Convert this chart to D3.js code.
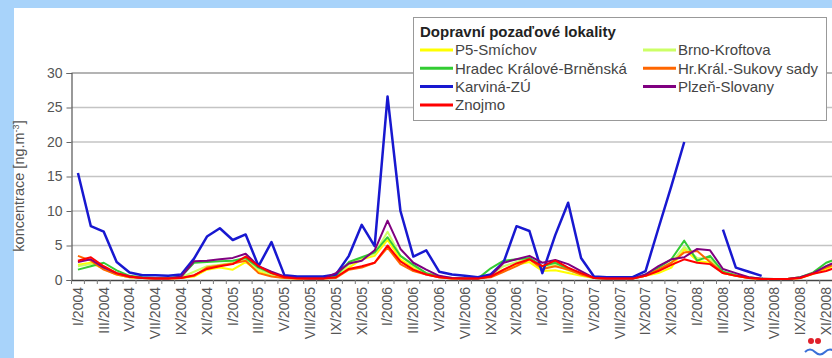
<!DOCTYPE html>
<html><head><meta charset="utf-8">
<script src="https://cdn.jsdelivr.net/npm/d3@7/dist/d3.min.js"></script>
<style>body{margin:0;background:#a8d3fa;overflow:hidden}svg{display:block}</style>
</head><body><svg id="c" width="832" height="358"></svg>
<script>
const months = ["I/2004","II/2004","III/2004","IV/2004","V/2004","VI/2004","VII/2004","VIII/2004","IX/2004","X/2004","XI/2004","XII/2004",
"I/2005","II/2005","III/2005","IV/2005","V/2005","VI/2005","VII/2005","VIII/2005","IX/2005","X/2005","XI/2005","XII/2005",
"I/2006","II/2006","III/2006","IV/2006","V/2006","VI/2006","VII/2006","VIII/2006","IX/2006","X/2006","XI/2006","XII/2006",
"I/2007","II/2007","III/2007","IV/2007","V/2007","VI/2007","VII/2007","VIII/2007","IX/2007","X/2007","XI/2007","XII/2007",
"I/2008","II/2008","III/2008","IV/2008","V/2008","VI/2008","VII/2008","VIII/2008","IX/2008","X/2008","XI/2008","XII/2008"];
const yTicks = [0,5,10,15,20,25,30];
const legendTitle = "Dopravní pozaďové lokality";
const yTitle = "koncentrace [ng.m";

const p5Smichov = [2.2,2.5,1.6,0.8,0.4,0.3,0.2,0.2,0.3,0.5,1.5,1.8, 1.5,2.6,1.2,0.6,0.3,0.2,0.2,0.2,0.4,1.8,3.0,3.5, 5.8,3.0,1.8,0.9,0.4,0.2,0.2,0.2,0.6,1.5,2.2,2.6, 1.3,1.4,1.0,0.6,0.3,0.2,0.2,0.2,0.6,1.0,1.8,4.5, 2.8,2.5,1.0,0.6,0.3,0.15,0.15,0.15,0.3,0.9,1.6,2.4];
const brnoKroftova = [2.0,2.3,1.8,1.0,0.5,0.3,0.2,0.2,0.4,1.2,2.0,2.2, 2.5,3.0,1.5,0.8,0.4,0.2,0.2,0.2,0.5,2.2,3.2,3.8, 7.0,3.5,2.0,1.0,0.5,0.2,0.2,0.2,0.8,2.0,2.6,3.2, 1.6,2.2,1.4,0.8,0.3,0.2,0.2,0.2,0.7,1.5,2.5,4.8, 3.2,3.0,1.2,0.7,0.3,0.15,0.15,0.15,0.4,1.0,2.0,2.8];
const hradecBrnenska = [1.5,2.0,2.5,1.4,0.6,0.4,0.3,0.3,0.5,2.5,2.6,2.7, 2.8,3.2,1.8,1.0,0.5,0.3,0.2,0.2,0.6,2.6,3.3,4.0, 6.2,3.5,2.2,1.0,0.5,0.3,0.2,0.2,1.7,2.8,3.0,3.2, 2.0,2.5,1.6,1.0,0.3,0.2,0.2,0.2,0.8,1.8,3.0,5.7, 2.8,3.5,1.2,0.7,0.4,0.2,0.15,0.15,0.4,1.1,2.5,3.2];
const hrKralSukovy = [3.5,2.8,1.5,0.8,0.4,0.3,0.2,0.2,0.3,0.6,1.8,2.1, 2.4,2.8,1.0,0.5,0.3,0.2,0.2,0.2,0.3,1.5,1.8,2.5, 4.7,2.3,1.3,0.8,0.4,0.2,0.2,0.2,0.4,1.2,2.0,3.0, 1.6,2.0,1.5,0.8,0.3,0.2,0.2,0.2,0.6,1.5,2.5,4.0, 4.2,2.6,1.0,0.6,0.3,0.15,0.15,0.15,0.3,1.0,1.8,2.5];
const karvinaZU = [15.5,7.8,7.0,2.6,1.1,0.7,0.7,0.6,0.8,3.1,6.3,7.5, 5.8,6.6,2.0,5.5,0.7,0.5,0.5,0.5,0.8,3.5,8.0,4.9, 26.6,10.0,3.4,4.3,1.2,0.8,0.6,0.4,0.8,2.6,7.8,7.1, 1.0,6.5,11.2,3.2,0.5,0.4,0.4,0.4,1.3,7.5,13.6,20.0, null,null,7.3,1.8,1.2,0.6,null,null,null,null,null,null];
const plzenSlovany = [2.6,3.0,1.8,1.0,0.5,0.3,0.2,0.2,0.5,2.7,2.8,3.0, 3.2,3.8,2.0,1.2,0.5,0.3,0.2,0.2,1.0,2.4,2.8,4.3, 8.6,4.5,2.5,1.5,0.6,0.3,0.2,0.2,0.6,2.5,3.0,3.5, 2.5,2.9,2.3,1.3,0.3,0.2,0.2,0.2,0.8,2.0,3.0,3.3, 4.5,4.3,1.6,1.0,0.4,0.2,0.15,0.15,0.4,1.0,2.0,2.8];
const znojmo = [2.8,3.3,2.0,1.0,0.5,0.3,0.2,0.2,0.3,0.7,1.6,2.0, 2.3,3.4,2.0,1.0,0.4,0.2,0.2,0.2,0.4,1.6,2.0,2.5, 5.0,2.7,1.5,0.8,0.4,0.2,0.2,0.2,0.5,1.5,2.4,3.0, 2.0,2.8,1.8,1.0,0.3,0.2,0.2,0.2,0.6,1.3,2.2,3.0, 2.5,2.3,1.0,0.6,0.3,0.15,0.15,0.15,0.3,0.9,1.3,2.0];

const seriesNames = ["P5-Smíchov","Brno-Kroftova","Hradec Králové-Brněnská","Hr.Král.-Sukovy sady","Karviná-ZÚ","Plzeň-Slovany","Znojmo"];
const seriesValues = [p5Smichov,brnoKroftova,hradecBrnenska,hrKralSukovy,karvinaZU,plzenSlovany,znojmo];
const seriesColors = ["#ffff00","#ccff66","#33cc33","#ff6600","#1818d0","#800080","#ff0000"];
const seriesWidths = [2,2,2,2,2.5,2,2];

const svg = d3.select("#c");
const font = "'Liberation Sans', Arial, sans-serif";
svg.append("rect").attr("x",0).attr("y",0).attr("width",832).attr("height",358).attr("fill","#a8d3fa");
svg.append("rect").attr("x",14).attr("y",8).attr("width",818).attr("height",350).attr("fill","#ffffff");

const left = 71.5, step = 12.9;
const x = d3.scaleBand().domain(months).range([left, left + step*months.length]).paddingInner(0).paddingOuter(0);
const y = d3.scaleLinear().domain([0,30]).range([280,73]);
const right = left + step*months.length;

// gridlines
svg.append("g").selectAll("line").data(yTicks.filter(t=>t>0 && t<30)).join("line")
  .attr("x1",left).attr("x2",right).attr("y1",d=>y(d)).attr("y2",d=>y(d))
  .attr("stroke","#c4c4c4").attr("stroke-width",1.6);
// top border
svg.append("line").attr("x1",left).attr("x2",right).attr("y1",y(30)).attr("y2",y(30)).attr("stroke","#6a6a6a").attr("stroke-width",1.2);

// y axis
const yAxis = d3.axisLeft(y).tickValues(yTicks).tickSize(5).tickPadding(4);
const gy = svg.append("g").attr("transform",`translate(${left},0)`).call(yAxis);
gy.select(".domain").attr("stroke","#555").attr("stroke-width",1.2);
gy.selectAll(".tick line").attr("stroke","#666");
gy.selectAll(".tick text").attr("font-family",font).attr("font-size",14).attr("fill","#555");

// x axis
const xAxis = d3.axisBottom(x).tickSize(0).tickFormat((d,i)=> i%2===0 ? d : "");
const gx = svg.append("g").attr("transform","translate(0,280)").call(xAxis);
gx.select(".domain").attr("stroke","#444").attr("stroke-width",1.5);
gx.selectAll(".tick text").attr("font-family",font).attr("font-size",14).attr("fill","#555")
  .attr("text-anchor","end").attr("transform","rotate(-90)").attr("x",-7).attr("y",0).attr("dy","0.35em");
// small category ticks
svg.append("g").selectAll("line").data(months).join("line")
  .attr("x1",d=>x(d)).attr("x2",d=>x(d)).attr("y1",280).attr("y2",284).attr("stroke","#777");

// y title
const yt = svg.append("text").attr("transform","translate(24,186) rotate(-90)").attr("text-anchor","middle")
  .attr("font-family",font).attr("font-size",14.5).attr("fill","#555");
yt.append("tspan").text(yTitle);
yt.append("tspan").attr("font-size",9).attr("dy",-5).text("-3");
yt.append("tspan").attr("dy",5).text("]");

// lines
const line = d3.line().defined(d=>d!=null).x((d,i)=>x(months[i])+x.bandwidth()/2).y(d=>y(d));
svg.append("g").selectAll("path").data(seriesValues).join("path")
  .attr("d",d=>line(d)).attr("fill","none")
  .attr("stroke",(d,i)=>seriesColors[i]).attr("stroke-width",(d,i)=>seriesWidths[i])
  .attr("stroke-linejoin","round");

// legend
const lg = svg.append("g");
lg.append("rect").attr("x",413.5).attr("y",17.5).attr("width",413).attr("height",103)
  .attr("fill","#fff").attr("stroke","#999");
lg.append("text").attr("x",420).attr("y",37).attr("font-family",font).attr("font-size",15)
  .attr("font-weight","bold").attr("fill","#222").text(legendTitle);
const legendOrder = [0,2,4,6,1,3,5];
legendOrder.forEach((si,k)=>{
  const col = k<4?0:1, row = k<4?k:k-4;
  const lx = col===0?420:643, ly = 50 + row*18.3;
  lg.append("line").attr("x1",lx).attr("x2",lx+33).attr("y1",ly).attr("y2",ly)
    .attr("stroke",seriesColors[si]).attr("stroke-width",3);
  lg.append("text").attr("x",lx+35).attr("y",ly).attr("dy","0.35em").attr("font-family",font)
    .attr("font-size",15).attr("fill","#444").text(seriesNames[si]);
});

// logo fragment bottom-right
svg.append("circle").attr("cx",811).attr("cy",341).attr("r",3).attr("fill","#e0202a");
svg.append("circle").attr("cx",818).attr("cy",341).attr("r",3).attr("fill","#e0202a");
svg.append("path").attr("d","M805,352 q5,-5 10,0 t10,0 t10,0").attr("fill","none").attr("stroke","#3a6fd8").attr("stroke-width",2);
</script></body></html>
